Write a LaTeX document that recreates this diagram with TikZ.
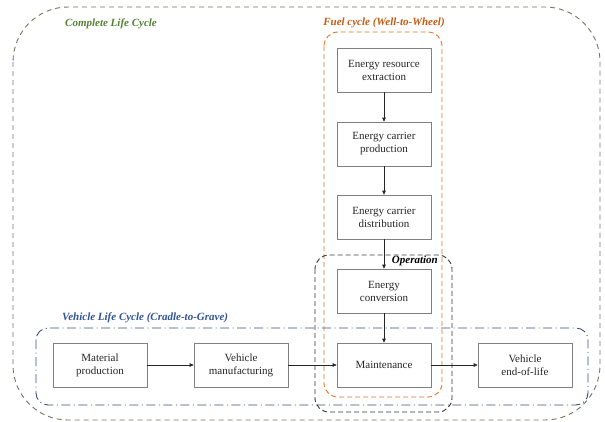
\documentclass[tikz,border=0pt]{standalone}
\usepackage{fontspec}
\setmainfont{Liberation Serif}
\usetikzlibrary{arrows.meta}

\definecolor{lifegray}{RGB}{110,118,98}
\definecolor{lifegreen}{RGB}{84,130,53}
\definecolor{fuelorange}{RGB}{228,112,40}
\definecolor{fuellabel}{RGB}{197,90,17}
\definecolor{vehblue}{RGB}{60,78,115}
\definecolor{vehlabel}{RGB}{47,84,150}
\definecolor{opgray}{RGB}{55,55,55}

\tikzset{
	stage/.style = {draw = gray, fill = white, line width = 0.6pt, minimum width = 94pt, minimum height = 44pt,
		align = center, inner sep = 1pt, text = black!85, font = \fontsize{11}{13}\selectfont},
	flow/.style = {-{Triangle[length = 4pt, width = 3.5pt]}, line width = 0.6pt, black!85},
	tag/.style = {inner sep = 0pt, font = \fontsize{11}{12}\selectfont\bfseries\itshape},
}

\begin{document}
\begin{tikzpicture}[x = 1pt, y = -1pt]
\useasboundingbox (0,0) rectangle (605,421);

% frames
\draw[lifegray, line width = 0.9pt, dash pattern = on 5pt off 4pt, rounded corners = 55pt] (13,7) rectangle (600,420);
\draw[vehblue, line width = 0.9pt, dash pattern = on 9pt off 3.5pt on 1pt off 3.5pt, rounded corners = 12pt] (36,328) rectangle (588,405);
\draw[fuelorange, line width = 0.9pt, dash pattern = on 5pt off 3pt, rounded corners = 14pt] (324,32) rectangle (442,397);
\draw[opgray, line width = 0.9pt, dash pattern = on 5pt off 3pt, rounded corners = 14pt] (315,255) rectangle (452,412);

\node[tag, lifegreen, anchor = west] (complete) at (65,24) {Complete Life Cycle};
\node[tag, fuellabel] (fuel) at (384,23) {Fuel cycle (Well-to-Wheel)};
\node[tag, black, anchor = east] (operation) at (438,261) {Operation};
\node[tag, vehlabel, anchor = west] (vehicle) at (62,318) {Vehicle Life Cycle (Cradle-to-Grave)};

% stages
\node[stage] (extract) at (384,70) {Energy resource\\extraction};
\node[stage] (produce) at (384,144) {Energy carrier\\production};
\node[stage] (distrib) at (384,217) {Energy carrier\\distribution};
\node[stage] (convert) at (384,291) {Energy\\conversion};
\node[stage] (maint) at (384,365) {Maintenance};

\node[stage] (material) at (100,365) {Material\\production};
\node[stage] (manuf) at (241,365) {Vehicle\\manufacturing};
\node[stage] (endlife) at (525,365) {Vehicle\\end-of-life};

\draw[flow] (extract) -- (produce);
\draw[flow] (produce) -- (distrib);
\draw[flow] (distrib) -- (convert);
\draw[flow] (convert) -- (maint);

\draw[flow] (material) -- (manuf);
\draw[flow] (manuf) -- (maint);
\draw[flow] (maint) -- (endlife);

\end{tikzpicture}
\end{document}
